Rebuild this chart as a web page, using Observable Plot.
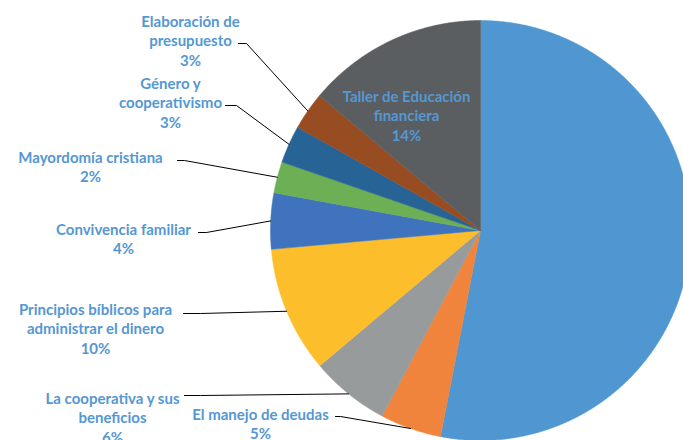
<!DOCTYPE html>
<html>
<head>
<meta charset="utf-8">
<script src="https://cdn.jsdelivr.net/npm/d3@7"></script>
<script src="https://cdn.jsdelivr.net/npm/@observablehq/plot@0.6"></script>
<style>
  html, body { margin: 0; padding: 0; background: #fff; overflow: hidden; }
</style>
</head>
<body>
<div id="chart"></div>
<script>
// ---- data (clockwise from 12 o'clock) ----
const categories = [
  "Otros",
  "El manejo de deudas",
  "La cooperativa y sus beneficios",
  "Principios bíblicos para administrar el dinero",
  "Convivencia familiar",
  "Mayordomía cristiana",
  "Género y cooperativismo",
  "Elaboración de presupuesto",
  "Taller de Educación financiera"
];
const values = [53.0, 4.7, 6.1, 9.7, 4.3, 2.4, 2.9, 2.9, 13.9];
const percentLabels = ["", "5%", "6%", "10%", "4%", "2%", "3%", "3%", "14%"];
const labelLines = [
  null,
  "El manejo de deudas",
  "La cooperativa y sus\nbeneficios",
  "Principios bíblicos para\nadministrar el dinero",
  "Convivencia familiar",
  "Mayordomía cristiana",
  "Género y\ncooperativismo",
  "Elaboración de\npresupuesto",
  "Taller de Educación\nfinanciera"
];
const colors = ["#5097d1", "#f0843c", "#989b9c", "#fdbe2b", "#3f73be", "#6daf55", "#286396", "#974c21", "#5a5e60"];

// ---- layout (pixels) ----
const W = 683, H = 440;
const cx = 480, cy = 230, R = 210;
const fontSize = 15, lineH = 19.6;
const layout = [
  null,
  {tx: 260, ty: 413, sx: 335, sy: 416, ex: 340},
  {tx: 112, ty: 397, sx: 184, sy: 395, ex: 200},
  {tx: 95,  ty: 308, sx: 183, sy: 313, ex: 200},
  {tx: 123, ty: 228, sx: 198, sy: 232, ex: 206},
  {tx: 90,  ty: 156, sx: 177, sy: 160, ex: 184},
  {tx: 170, ty: 82,  sx: 225, sy: 105, ex: 236},
  {tx: 190, ty: 20,  sx: 238, sy: 43,  ex: 246},
  {tx: 406, ty: 95,  inside: true}
];

const data = categories.map((c, i) => ({name: c, value: values[i], color: colors[i], i}));
const arcs = d3.pie().sort(null).value(d => d.value)(data);

const px = (a, r) => cx + r * Math.sin(a);
const py = (a, r) => cy - r * Math.cos(a);

// slice polygons
const slicePts = [];
arcs.forEach(a => {
  const n = Math.max(2, Math.ceil((a.endAngle - a.startAngle) / 0.005));
  slicePts.push({k: a.index, x: cx, y: cy, color: a.data.color});
  for (let j = 0; j <= n; j++) {
    const t = a.startAngle + (a.endAngle - a.startAngle) * j / n;
    slicePts.push({k: a.index, x: px(t, R), y: py(t, R), color: a.data.color});
  }
  slicePts.push({k: a.index, x: cx, y: cy, color: a.data.color});
});

// leader lines
const leaderPts = [];
arcs.forEach(a => {
  const L = layout[a.index];
  if (!L || L.inside) return;
  const mid = (a.startAngle + a.endAngle) / 2;
  leaderPts.push({k: a.index, x: L.sx, y: L.sy});
  leaderPts.push({k: a.index, x: L.ex, y: L.sy});
  leaderPts.push({k: a.index, x: px(mid, R), y: py(mid, R)});
});

// labels
const labels = arcs.filter(a => layout[a.index]).map(a => {
  const L = layout[a.index];
  const txt = labelLines[a.index] + "\n" + percentLabels[a.index];
  const n = txt.split("\n").length;
  return {x: L.tx, y: L.ty + (n - 1) * lineH / 2, text: txt};
});

const chart = Plot.plot({
  width: W,
  height: H,
  margin: 0,
  x: {domain: [0, W], range: [0, W], axis: null},
  y: {domain: [0, H], range: [0, H], axis: null},
  style: {fontFamily: "Lato, 'Open Sans', sans-serif", background: "#fff"},
  marks: [
    Plot.line(slicePts, {x: "x", y: "y", z: "k", fill: d => d.color, stroke: d => d.color, strokeWidth: 0.5, curve: "linear"}),
    Plot.line(leaderPts, {x: "x", y: "y", z: "k", stroke: "#000", strokeWidth: 1, curve: "linear"}),
    Plot.text(labels, {
      x: "x", y: "y", text: "text",
      fill: "#5597d3", fontSize: fontSize, fontWeight: "bold",
      textAnchor: "middle", lineAnchor: "middle", lineHeight: lineH / fontSize
    })
  ]
});
document.getElementById("chart").appendChild(chart);
</script>
</body>
</html>
